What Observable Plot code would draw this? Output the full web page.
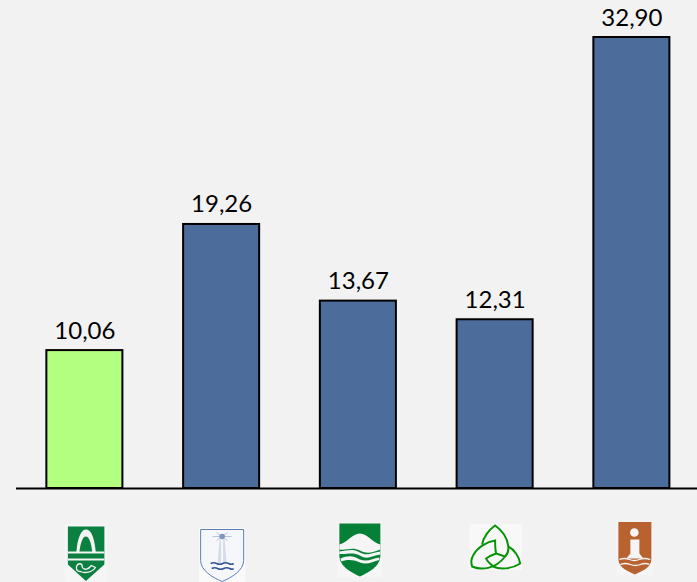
<!DOCTYPE html>
<html><head><meta charset="utf-8">
<script src="https://cdn.jsdelivr.net/npm/d3@7"></script>
<script src="https://cdn.jsdelivr.net/npm/@observablehq/plot@0.6"></script>
<style>html,body{margin:0;padding:0;background:#f2f2f2;overflow:hidden}svg{display:block}</style>
</head><body><div id="chart"></div>
<script>
const categories = ["a","b","c","d","e"];
const values = [10.06,19.26,13.67,12.31,32.90];
const labels = ["10,06","19,26","13,67","12,31","32,90"];
const fills = ["#b3ff80","#4c6c9c","#4c6c9c","#4c6c9c","#4c6c9c"];
const rows = categories.map((c,i)=>({c,v:values[i],l:labels[i],f:fills[i]}));

const svgUri = (w,h,body)=>"data:image/svg+xml,"+encodeURIComponent(`<svg xmlns="http://www.w3.org/2000/svg" width="${w}" height="${h}" viewBox="0 0 ${w} ${h}">${body}</svg>`);
const logo1 = svgUri(43,59,`<rect width="43" height="59" fill="#f5f5f5"/>
<path d="M3.5 3H40V41L21.5 57.500L3.500 41Z" fill="#0b8040"/>
<path d="M12 29C13 14 17 6 21.500 6C27 6 30 14 31.500 29H28C27 20 25 13 21.500 13C18 13 16 20 15 29Z" fill="#f4f4f4"/>
<path d="M3.500 28H40V30H3.500ZM3.500 35H40V37H3.500Z" fill="#f4f4f4"/>
<path d="M12 44C13 39 18 39 18 44C20 47 24 46 27 42L31 44C28 49 20 50 16 48C13 48 12 46 12 44Z" fill="none" stroke="#f4f4f4" stroke-width="1.300"/>`);
const logo2 = svgUri(47,55,`<rect width="47" height="55" fill="#fafafa"/>
<path d="M2 2H45V33C45 43 33 50 23.500 54C14 50 2 43 2 33Z" fill="#f6f7fa" stroke="#5d7fb8" stroke-width="1"/>
<path d="M21 12H26L28 36H19Z" fill="#d4dcea"/><path d="M22.500 12H24.500V36H22.500Z" fill="#f7f8fb"/>
<path d="M14 9L33 9M18 5L29 13M29 5L18 13" stroke="#a9b8d4" stroke-width="0.800"/>
<circle cx="23.500" cy="9" r="2.800" fill="#7f96c0"/>
<path d="M12 36Q15 34.500 18 36T24 36T30 36T35 36M13 41Q16 39.500 19 41T25 41T31 41T35 41" fill="none" stroke="#2f5597" stroke-width="1.600"/>`);
const logo3 = svgUri(45,55,`<rect width="45" height="55" fill="#f6f6f6"/>
<path d="M2 1H43V33C43 44 31 50 22.500 54C14 50 2 44 2 33Z" fill="#068037"/>
<path d="M2 22C10 20 15 11 22.500 11C30 11 35 20 43 22V27C35 30 30 32 22.500 28C15 24 10 28 2 27Z" fill="#f5f5f5"/>
<path d="M2 29C11 28 15 26 22.500 30C30 34 35 30 43 29V32C35 33 30 38 22.500 33C15 29 10 32 2 31.500Z" fill="#f5f5f5"/>
<path d="M3 36C11 33 15 33 22.500 37C30 40 35 36 42 35V37.500C35 39 30 43 22.500 40C15 37 11 37 4 39Z" fill="#f5f5f5"/>`);
const logo4 = svgUri(53,47,`<rect width="53" height="47" fill="#f8f8f8"/>
<g fill="none" stroke="#079307" stroke-width="2"><path d="M13 21C14 14 20 6 26 2C33 7 38 14 39 22C40 27 38 31 36 33"/>
<path d="M26 17C18 18 8 24 4 32C1 37 2 40 3 43C12 47 26 46 36 33L27 30C26 26 26 22 26 17Z"/>
<path d="M39 23C45 26 50 33 51 40C42 46 30 46 24 43C21 40 18 38 17 35C20 33 24 31 27 30"/></g>`);
const logo5 = svgUri(37,54,`<rect width="37" height="54" fill="#f5f5f5"/>
<path d="M2 0H35V38C35 46 25 50 18.500 53C12 50 2 46 2 38Z" fill="#b86230"/>
<circle cx="18" cy="11" r="4.300" fill="#f5f5f5"/>
<path d="M14 18H23V32L27 37H10L14 32Z" fill="#f5f5f5"/>
<path d="M3 38Q8 36 13 38T23 38T34 38M4 43Q9 41 14 43T24 43T33 43" fill="none" stroke="#f5f5f5" stroke-width="1.300"/>`);

const logos = [
  {c:"a",src:logo1,w:43,h:59,dx:1,top:523},
  {c:"b",src:logo2,w:47,h:55,dx:0.5,top:527},
  {c:"c",src:logo3,w:45,h:55,dx:1.500,top:522},
  {c:"d",src:logo4,w:53,h:47,dx:0.500,top:523},
  {c:"e",src:logo5,w:37,h:54,dx:3,top:521}
];

const plot = Plot.plot({
  width:697,height:582,marginLeft:16,marginRight:0,marginTop:0,marginBottom:94,
  style:{background:"#f2f2f2",fontFamily:"Lato, sans-serif",overflow:"hidden"},
  x:{domain:categories,range:[16,699.75],paddingInner:0.444,paddingOuter:0.222,round:false,axis:null},
  y:{domain:[0,32.9],range:[488,37],axis:null},
  marks:[
    Plot.barY(rows,{x:"c",y:"v",fill:d=>d.f,stroke:"#000",strokeWidth:2}),
    Plot.ruleY([0],{stroke:"#000",strokeWidth:2}),
    Plot.text(rows,{x:"c",y:"v",text:"l",lineAnchor:"bottom",dy:-12,fontSize:24,fill:"#000"}),
    ...logos.map(l=>Plot.image([l],{x:"c",frameAnchor:"top",dx:l.dx,dy:l.top+l.h/2,width:l.w,height:l.h,src:"src"}))
  ]
});
document.getElementById("chart").append(plot);
</script></body></html>
